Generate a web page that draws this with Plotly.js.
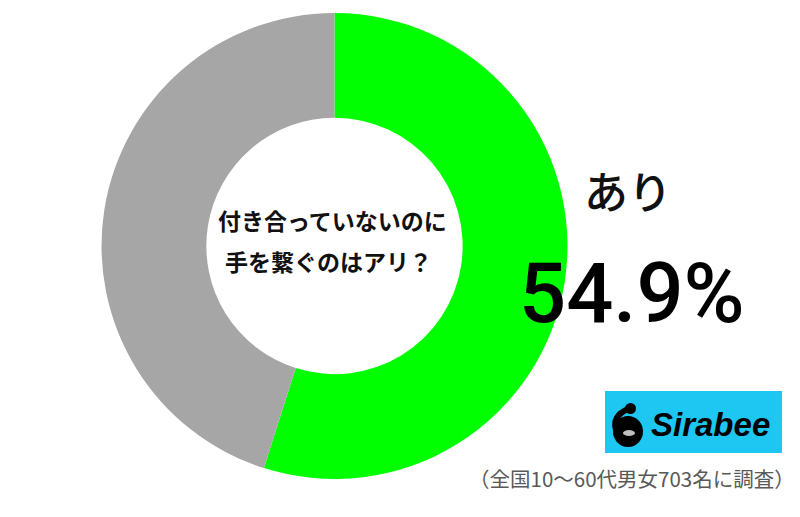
<!DOCTYPE html>
<html>
<head>
<meta charset="utf-8">
<script src="https://cdn.plot.ly/plotly-3.0.1.min.js"></script>
<style>html,body{margin:0;padding:0;background:#fff;}#chart{width:800px;height:517px;}</style>
</head>
<body>
<div id="chart"></div>
<script>
const labels = ['あり', 'なし'];
const values = [54.9, 45.1];
const colors = ['#00FF00', '#A6A6A6'];
const questionLines = ['付き合っていないのに', '手を繋ぐのはアリ？'];
const highlightLabel = 'あり';
const footnote = '（全国10～60代男女703名に調査）';
const brand = 'Sirabee';

const W = 800, H = 517;
const px = x => x / W;
const py = y => 1 - y / H;

const cx = 334.5, cy = 246, R = 233;

const data = [{
  type: 'pie',
  labels: labels,
  values: values,
  sort: false,
  direction: 'clockwise',
  rotation: 0,
  hole: 0.55,
  textinfo: 'none',
  hoverinfo: 'label+percent',
  marker: { colors: colors, line: { width: 0 } },
  domain: { x: [px(cx - R), px(cx + R)], y: [py(cy + R), py(cy - R)] },
  showlegend: false
}];

const jp = '"Noto Sans CJK JP", "Noto Sans", sans-serif';
const ann = (x, y, text, font, extra) => Object.assign({
  xref: 'paper', yref: 'paper', x: px(x), y: py(y), text: text,
  showarrow: false, xanchor: 'center', yanchor: 'middle', font: font
}, extra || {});

const layout = {
  width: W, height: H,
  margin: { l: 0, r: 0, t: 0, b: 0 },
  paper_bgcolor: '#ffffff',
  plot_bgcolor: '#ffffff',
  annotations: [
    ann(332, 220, '<b>' + questionLines[0] + '</b>', { family: jp, size: 23, color: '#111' }),
    ann(328, 261, '<b>' + questionLines[1] + '</b>', { family: jp, size: 23, color: '#111' }),
    ann(628, 190, highlightLabel, { family: jp, size: 44, color: '#111', weight: 500 }),
    ann(632, 293, values[0].toFixed(1) + '%', { family: 'Roboto, "Liberation Sans", sans-serif', size: 83, color: '#000', weight: 500 }),
    ann(710, 424, '<b><i>' + brand + '</i></b>', { family: '"Liberation Sans", Arial, sans-serif', size: 33, color: '#000' }),
    ann(632, 478, footnote, { family: jp, size: 20.5, color: '#595959' })
  ],
  shapes: [
    { type: 'rect', xref: 'paper', yref: 'paper', x0: px(605), x1: px(782), y0: py(453), y1: py(391),
      fillcolor: '#1EC6F2', line: { width: 0 }, layer: 'below' },
    { type: 'circle', xref: 'paper', yref: 'paper', x0: px(613), x1: px(643), y0: py(447), y1: py(416),
      fillcolor: '#000', line: { width: 0 } },
    { type: 'circle', xref: 'paper', yref: 'paper', x0: px(625), x1: px(636), y0: py(414), y1: py(403),
      fillcolor: '#000', line: { width: 0 } },
    { type: 'path', xref: 'paper', yref: 'paper',
      path: `M ${px(628)} ${py(409)} Q ${px(612)} ${py(416)} ${px(616)} ${py(430)}`,
      line: { color: '#000', width: 6 }, fillcolor: 'rgba(0,0,0,0)' },
    { type: 'circle', xref: 'paper', yref: 'paper', x0: px(623), x1: px(635), y0: py(436), y1: py(430),
      fillcolor: '#ffffff', line: { width: 0 }, opacity: 0.75 }
  ]
};

Plotly.newPlot('chart', data, layout, { displayModeBar: false, staticPlot: true });
</script>
</body>
</html>
